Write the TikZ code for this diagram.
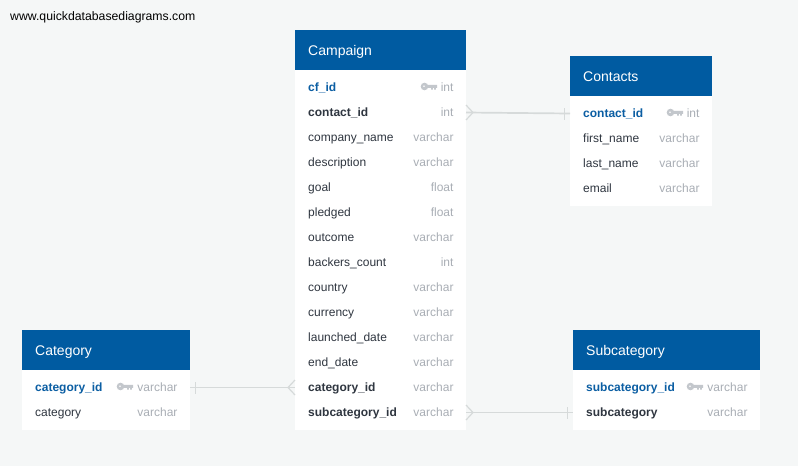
\documentclass[tikz,border=0pt]{standalone}
\usepackage{fontspec}
\setmainfont{Liberation Sans}
\definecolor{bgc}{HTML}{F5F7F7}
\definecolor{hdr}{HTML}{005BA1}
\definecolor{pkc}{HTML}{0B5EA3}
\definecolor{txtc}{HTML}{2F3640}
\definecolor{typec}{HTML}{A9AEB5}
\definecolor{keyc}{HTML}{C3C7CC}
\definecolor{relc}{HTML}{D6DADA}
\tikzset{
  tablehead/.style={fill=hdr,anchor=north west,inner sep=0pt,outer sep=0pt,minimum height=40pt},
  tablebody/.style={fill=white,anchor=north west,inner sep=0pt,outer sep=0pt},
  tabletitle/.style={anchor=base west,inner sep=0pt,text=white,font=\fontsize{14}{16}\selectfont},
  rowband/.style={anchor=west,inner sep=0pt,outer sep=0pt,minimum height=25pt},
  collabel/.style={anchor=base west,inner sep=0pt,text=txtc,font=\fontsize{12}{14}\selectfont},
  fklabel/.style={collabel,font=\fontsize{12}{14}\selectfont\bfseries},
  pklabel/.style={collabel,text=pkc,font=\fontsize{12}{14}\selectfont\bfseries},
  typelabel/.style={anchor=base east,inner sep=0pt,text=typec,font=\fontsize{12}{14}\selectfont},
  rel/.style={draw=relc,line width=1.7pt},
  relthin/.style={draw=relc,line width=1.2pt},
  keyicon/.style={fill=keyc,draw=none}
}
% \dbtable{name}{x}{y}{width}{body height}{title}
\newcommand{\dbtable}[6]{%
  \node[tablehead,minimum width=#4pt] (#1) at (#2,#3) {};
  \node[tablebody,minimum width=#4pt,minimum height=#5pt] (#1-body) at (#2,#3+40) {};
  \node[tabletitle] (#1-title) at (#2+13,#3+25) {#6};
}
% \dbrow{name}{left x}{width}{centre y}{label style}{label}{type}
\newcommand{\dbrow}[7]{%
  \node[rowband,minimum width=#3pt] (#1) at (#2,#4) {};
  \node[#5] (#1-name) at (#2+13,#4+4) {#6};
  \node[typelabel] (#1-type) at (#2+#3-12.3,#4+4) {#7};
}
% \dbkey{right x}{y}
\newcommand{\dbkey}[2]{%
  \fill[keyicon,even odd rule] (#1-12.5,#2) circle (3.8pt) (#1-13,#2-0.2) circle (1.1pt);
  \fill[keyicon] (#1-10,#2-1.7) -- (#1,#2-1.7) -- (#1,#2+1.3) -- (#1-1.2,#2+1.3) -- (#1-1.2,#2+3) -- (#1-3,#2+3) -- (#1-3,#2+1.3) -- (#1-4.2,#2+1.3) -- (#1-4.2,#2+3) -- (#1-6,#2+3) -- (#1-6,#2+1.3) -- (#1-10,#2+1.3) -- cycle;
}
\begin{document}
\begin{tikzpicture}[x=1pt,y=-1pt]
\useasboundingbox (0,0) rectangle (798,466);
\fill[bgc] (0,0) rectangle (798,466);
\node[anchor=base west,inner sep=0pt,font=\fontsize{12.25}{14}\selectfont] (site) at (10,20) {www.quickdatabasediagrams.com};

% Campaign
\dbtable{campaign}{295}{30}{171}{360}{Campaign}
\dbrow{c-cfid}{295}{171}{87.5}{pklabel}{cf\_id}{int}
\dbrow{c-contact}{295}{171}{112.5}{fklabel}{contact\_id}{int}
\dbrow{c-company}{295}{171}{137.5}{collabel}{company\_name}{varchar}
\dbrow{c-desc}{295}{171}{162.5}{collabel}{description}{varchar}
\dbrow{c-goal}{295}{171}{187.5}{collabel}{goal}{float}
\dbrow{c-pledged}{295}{171}{212.5}{collabel}{pledged}{float}
\dbrow{c-outcome}{295}{171}{237.5}{collabel}{outcome}{varchar}
\dbrow{c-backers}{295}{171}{262.5}{collabel}{backers\_count}{int}
\dbrow{c-country}{295}{171}{287.5}{collabel}{country}{varchar}
\dbrow{c-currency}{295}{171}{312.5}{collabel}{currency}{varchar}
\dbrow{c-launched}{295}{171}{337.5}{collabel}{launched\_date}{varchar}
\dbrow{c-end}{295}{171}{362.5}{collabel}{end\_date}{varchar}
\dbrow{c-cat}{295}{171}{387.5}{fklabel}{category\_id}{varchar}
\dbrow{c-sub}{295}{171}{412.5}{fklabel}{subcategory\_id}{varchar}
\dbkey{437}{86.5}

% Contacts
\dbtable{contacts}{570}{56}{142}{110}{Contacts}
\dbrow{t-contact}{570}{142}{113.5}{pklabel}{contact\_id}{int}
\dbrow{t-first}{570}{142}{138.5}{collabel}{first\_name}{varchar}
\dbrow{t-last}{570}{142}{163.5}{collabel}{last\_name}{varchar}
\dbrow{t-email}{570}{142}{188.5}{collabel}{email}{varchar}
\dbkey{683}{112.5}

% Category
\dbtable{category}{22}{330}{168}{60}{Category}
\dbrow{g-id}{22}{168}{387.5}{pklabel}{category\_id}{varchar}
\dbrow{g-name}{22}{168}{412.5}{collabel}{category}{varchar}
\dbkey{133}{386.5}

% Subcategory
\dbtable{subcategory}{573}{330}{187}{60}{Subcategory}
\dbrow{s-id}{573}{187}{387.5}{pklabel}{subcategory\_id}{varchar}
\dbrow{s-name}{573}{187}{412.5}{fklabel}{subcategory}{varchar}
\dbkey{703}{386.5}

% Relations
\draw[rel] (c-contact.east) -- (t-contact.west);
\draw[relthin] ([yshift=-7.5pt]c-contact.east) -- ([xshift=7pt]c-contact.east) -- ([yshift=7.5pt]c-contact.east);
\draw[relthin] ([xshift=-5.5pt,yshift=-6pt]t-contact.west) -- ([xshift=-5.5pt,yshift=6pt]t-contact.west);

\draw[rel] (g-id.east) -- (c-cat.west);
\draw[relthin] ([yshift=-7.5pt]c-cat.west) -- ([xshift=-7pt]c-cat.west) -- ([yshift=7.5pt]c-cat.west);
\draw[relthin] ([xshift=5.5pt,yshift=-6pt]g-id.east) -- ([xshift=5.5pt,yshift=6pt]g-id.east);

\draw[rel] (c-sub.east) -- (s-name.west);
\draw[relthin] ([yshift=-7.5pt]c-sub.east) -- ([xshift=7pt]c-sub.east) -- ([yshift=7.5pt]c-sub.east);
\draw[relthin] ([xshift=-5.5pt,yshift=-6pt]s-name.west) -- ([xshift=-5.5pt,yshift=6pt]s-name.west);
\end{tikzpicture}
\end{document}
